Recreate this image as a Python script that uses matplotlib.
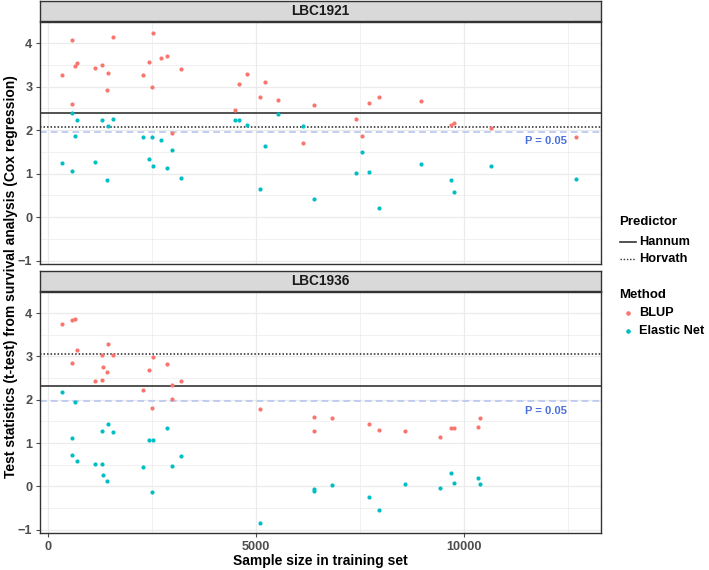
import matplotlib
matplotlib.use("Agg")
import matplotlib.pyplot as plt
from matplotlib.lines import Line2D
from matplotlib.ticker import MultipleLocator

plt.rcParams['font.family'] = ['Liberation Sans', 'DejaVu Sans']

# ---------------- data ----------------
panels = ["LBC1921", "LBC1936"]

# LBC1921
x21 = [322, 563, 580, 650, 683, 1117, 1292, 1420, 1437, 1550, 2279, 2424, 2496, 2520,
       2720, 2849, 2977, 3194, 4486, 4590, 4782, 5088, 5223, 5536, 6122, 6395, 7413,
       7550, 7726, 7959, 8962, 9692, 9771, 10662, 12693]
blup21 = [3.26, 4.07, 2.60, 3.48, 3.55, 3.43, 3.50, 2.93, 3.32, 4.14, 3.27, 3.56, 2.99, 4.24,
          3.65, 3.71, 1.94, 3.41, 2.46, 3.07, 3.29, 2.76, 3.10, 2.69, 1.71, 2.59, 2.26,
          1.87, 2.62, 2.76, 2.68, 2.11, 2.16, 2.04, 1.84]
enet21 = [1.25, 2.40, 1.06, 1.86, 2.23, 1.27, 2.24, 0.85, 2.10, 2.26, 1.84, 1.34, 1.84, 1.18,
          1.78, 1.12, 1.55, 0.90, 2.24, 2.24, 2.13, 0.64, 1.63, 2.37, 2.10, 0.41, 1.01,
          1.50, 1.04, 0.21, 1.22, 0.86, 0.58, 1.18, 0.88]

# LBC1936
x36_blup = [322, 563, 650, 683, 580, 1117, 1284, 1292, 1324, 1420, 1429, 1550, 2279, 2416,
            2520, 2488, 2849, 2977, 2977, 3194, 5088, 6395, 6395, 6828, 7726, 7959, 8585,
            9427, 9692, 9771, 10334, 10397]
blup36 = [3.75, 3.84, 3.87, 3.15, 2.85, 2.43, 2.45, 3.04, 2.75, 2.65, 3.29, 3.04, 2.23, 2.69,
          2.99, 1.82, 2.83, 2.34, 2.02, 2.43, 1.78, 1.61, 1.27, 1.57, 1.44, 1.30, 1.28,
          1.15, 1.35, 1.35, 1.37, 1.57]
x36_enet = [322, 650, 563, 580, 683, 1117, 1284, 1292, 1429, 1550, 1324, 1420, 2279, 2416,
            2520, 2488, 2849, 2977, 3194, 5088, 6395, 6395, 6828, 7726, 7959, 8585, 9427,
            9692, 9771, 10334, 10397]
enet36 = [2.19, 1.94, 1.12, 0.72, 0.59, 0.52, 0.52, 1.27, 1.43, 1.25, 0.25, 0.13, 0.45, 1.06,
          1.08, -0.13, 1.34, 0.48, 0.69, -0.86, -0.06, -0.11, 0.02, -0.25, -0.54, 0.06, -0.05,
          0.30, 0.07, 0.18, 0.05]

hannum = [2.40, 2.32]
horvath = [2.07, 3.06]
p_thresh = 1.96

methods = ["BLUP", "Elastic Net"]
predictors = ["Hannum", "Horvath"]
x_ticks = [0, 5000, 10000]
y_ticks = [-1, 0, 1, 2, 3, 4]

# ---------------- style ----------------
W, H = 709, 570
col_blup = "#F8766D"
col_enet = "#00BFC4"
grid_col = "#EBEBEB"
border_col = "#333333"
tick_col = "#4D4D4D"

fig = plt.figure(figsize=(W / 100, H / 100), dpi=100)


def fr(x0, y0, x1, y1):
    return [x0 / W, 1 - y1 / H, (x1 - x0) / W, (y1 - y0) / H]


panel_px = [(40, 22, 601, 264), (40, 292, 601, 533)]
strip_px = [(40, 1, 601, 21), (40, 271, 601, 291)]

data = [
    (x21, blup21, x21, enet21),
    (x36_blup, blup36, x36_enet, enet36),
]

for i, name in enumerate(panels):
    ax = fig.add_axes(fr(*panel_px[i]))
    ax.set_xlim(-200, 13300)
    ax.set_ylim(-1.08, 4.49)
    ax.xaxis.set_minor_locator(MultipleLocator(2500))
    ax.yaxis.set_minor_locator(MultipleLocator(0.5))
    ax.set_yticks(y_ticks)
    ax.set_xticks(x_ticks)
    ax.grid(True, which="major", color=grid_col, lw=0.9, zorder=0)
    ax.grid(True, which="minor", color=grid_col, lw=0.5, zorder=0)
    ax.set_axisbelow(True)
    for s in ax.spines.values():
        s.set_color(border_col)
        s.set_linewidth(1.0)
    ax.tick_params(which="minor", length=0)
    ax.tick_params(which="major", length=3, color=tick_col, width=0.8,
                   labelsize=9.2, labelcolor=tick_col, pad=2.5)
    for lab in ax.get_yticklabels():
        lab.set_fontweight("bold")
    if i == 0:
        ax.tick_params(axis="x", which="both", length=0, labelbottom=False)
    else:
        for lab in ax.get_xticklabels():
            lab.set_fontweight("bold")

    xb, yb, xe, ye = data[i]
    ax.scatter(xb, yb, s=9, color=col_blup, zorder=3, linewidths=0)
    ax.scatter(xe, ye, s=9, color=col_enet, zorder=3, linewidths=0)

    ax.axhline(hannum[i], color="#444444", lw=1.3, ls="-", zorder=2)
    ax.axhline(horvath[i], color="#222222", lw=1.1, ls=(0, (1, 1.3)), zorder=2)
    ax.axhline(p_thresh, color="#B8C6EE", lw=1.2, ls=(0, (4, 2.5)), zorder=2)
    ax.text(11980, p_thresh - 0.22, "P = 0.05", color="#4A6FDC", fontsize=8,
            fontweight="bold", ha="center", va="center")

    # strip
    sax = fig.add_axes(fr(*strip_px[i]))
    sax.set_xticks([])
    sax.set_yticks([])
    sax.set_facecolor("#D9D9D9")
    for s in sax.spines.values():
        s.set_color(border_col)
        s.set_linewidth(1.0)
    sax.text(0.5, 0.48, name, transform=sax.transAxes, ha="center", va="center",
             fontsize=9.8, fontweight="bold", color="#1A1A1A")

# axis titles
fig.text(320.5 / W, 1 - 561 / H, "Sample size in training set", ha="center", va="center",
         fontsize=10, fontweight="bold")
fig.text(11 / W, 1 - 277 / H, "Test statistics (t-test) from survival analysis (Cox regression)",
         ha="center", va="center", rotation=90, fontsize=10, fontweight="bold")

# legends
def P(x, y):
    return x / W, 1 - y / H

fig.text(*P(619, 222), "Predictor", ha="left", va="center", fontsize=9.5, fontweight="bold")
styles = ["-", (0, (1, 1.3))]
for k, (lab, ls) in enumerate(zip(predictors, styles)):
    yy = 242 + 16.5 * k
    (x0, y0), (x1, _) = P(620, yy), P(636, yy)
    fig.add_artist(Line2D([x0, x1], [y0, y0], color="#333333", lw=1.2 if k == 0 else 1.0,
                          ls=ls, transform=fig.transFigure))
    fig.text(*P(639, yy), lab, ha="left", va="center", fontsize=9.2, fontweight="bold")

fig.text(*P(619, 295), "Method", ha="left", va="center", fontsize=9.5, fontweight="bold")
for k, (lab, c) in enumerate(zip(methods, [col_blup, col_enet])):
    yy = 313 + 18 * k
    xx, yv = P(627.5, yy)
    fig.add_artist(Line2D([xx], [yv], marker="o", ms=3.3, color=c, mec="none", ls="none",
                          transform=fig.transFigure))
    fig.text(*P(639, yy), lab, ha="left", va="center", fontsize=9.2, fontweight="bold")

fig.savefig("out.png", dpi=100)
